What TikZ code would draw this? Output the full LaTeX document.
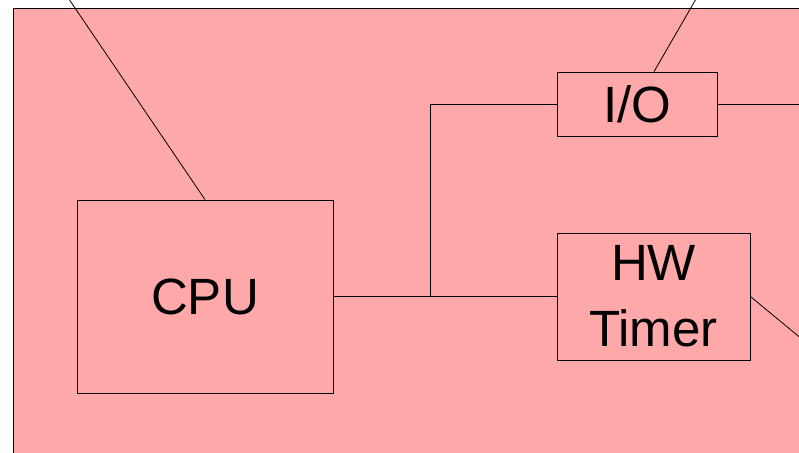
\documentclass[tikz,border=0pt]{standalone}
\usepackage{fontspec}
\setmainfont{Liberation Sans}
\definecolor{boardpink}{RGB}{255,168,170}
\begin{document}
\begin{tikzpicture}[x=1pt,y=-1pt,line width=0.8pt,
	block/.style={draw,inner sep=0pt,align=center,font=\fontsize{51}{66}\selectfont}]
	\useasboundingbox (0,0) rectangle (799,452);
	\draw [fill=boardpink] (13,8) rectangle (820,470);
	\node [block,minimum width=256pt,minimum height=193pt] (cpu)   at (205,296.5) {CPU};
	\node [block,minimum width=160pt,minimum height=64pt]  (io)    at (637,104)   {I/O};
	\node [block,minimum width=193pt,minimum height=127pt] (timer) at (653.5,296.5) {HW\\Timer};
	\coordinate (cpuout)   at (56,-20);
	\coordinate (iotop)    at ([xshift=17pt]io.north);
	\coordinate (ioout)    at (707,-20);
	\coordinate (ioright)  at (820,104);
	\coordinate (timerout) at (820,354);
	\coordinate (bus)      at (430,296.5);
	\draw (cpu.east) -- (timer.west);
	\draw (bus) |- (io.west);
	\draw (cpu.north) -- (cpuout);
	\draw (iotop) -- (ioout);
	\draw (io.east) -- (ioright);
	\draw (timer.east) -- (timerout);
\end{tikzpicture}
\end{document}
